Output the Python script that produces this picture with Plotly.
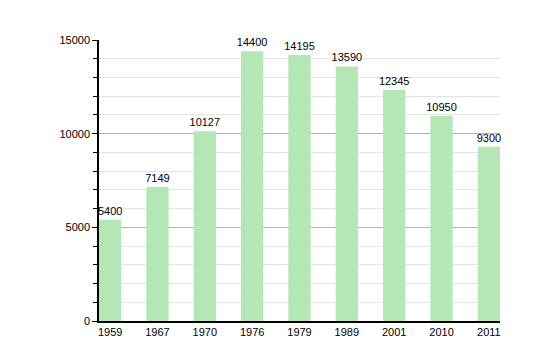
import plotly.graph_objects as go

years = ["1959", "1967", "1970", "1976", "1979", "1989", "2001", "2010", "2011"]
population = [5400, 7149, 10127, 14400, 14195, 13590, 12345, 10950, 9300]
y_ticks = [0, 5000, 10000, 15000]
y_tick_labels = ["0", "5000", "10000", "15000"]

xs = list(range(len(years)))

fig = go.Figure()
fig.add_trace(go.Bar(
    x=xs, y=population,
    width=0.47,
    marker=dict(color="#b5e6b5", line=dict(width=0)),
    text=[str(v) for v in population],
    textposition="outside",
    textfont=dict(size=11, color="#000000", family="Liberation Sans, Arial, sans-serif"),
    cliponaxis=False,
))

fig.update_layout(
    width=540, height=360,
    margin=dict(l=91, r=48, t=32, b=47, autoexpand=False),
    paper_bgcolor="white", plot_bgcolor="white",
    showlegend=False,
    uniformtext=dict(minsize=11, mode="show"),
    font=dict(family="Liberation Sans, Arial, sans-serif", size=11, color="#000000"),
    xaxis=dict(
        range=[-0.235, 8.235],
        tickmode="array", tickvals=xs, ticktext=years,
        showgrid=False, zeroline=False,
        showline=True, linecolor="#000000", linewidth=1.5,
        ticks="", ticklen=0,
        tickfont=dict(size=11),
    ),
    yaxis=dict(
        range=[0, 15000],
        tickmode="array", tickvals=y_ticks, ticktext=y_tick_labels,
        showgrid=True, gridcolor="#b0b0b0", gridwidth=1,
        zeroline=False,
        showline=True, linecolor="#000000", linewidth=1.5,
        ticks="outside", ticklen=5, tickcolor="#000000",
        tickfont=dict(size=11),
        minor=dict(dtick=1000, showgrid=True, gridcolor="#e4e4e4",
                   ticks="outside", ticklen=4, tickcolor="#000000"),
    ),
)

fig.write_html("out.html")
